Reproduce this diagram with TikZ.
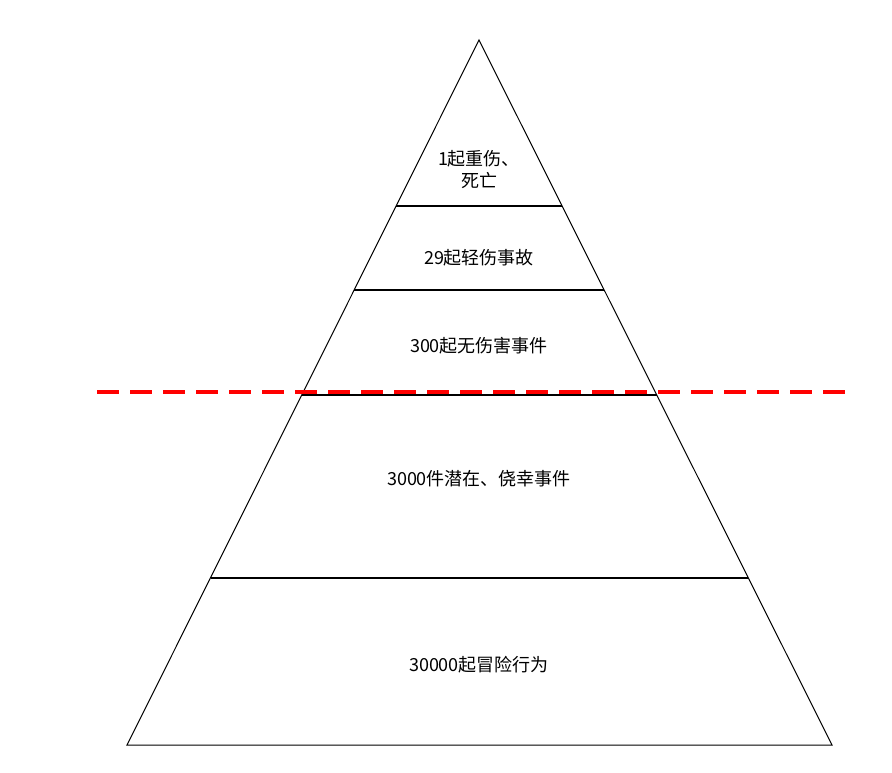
\documentclass[tikz,border=0pt]{standalone}
\usepackage{fontspec}
\newfontfamily\cjk{Noto Sans CJK SC}
\begin{document}
\begin{tikzpicture}[x=1pt,y=-1pt,
  lvl/.style={font=\cjk\fontsize{18}{22}\selectfont,align=center,inner sep=0pt},
  band/.style={draw=black,line width=1.8pt}]
\useasboundingbox (0,0) rectangle (892,773);
\coordinate (A) at (479,40);
\coordinate (L) at (127,745);
\coordinate (R) at (832,745);
\draw[black,line width=1pt] (A) -- (L) -- (R) -- cycle;
\foreach \y/\dx/\n in {206/83/a,290/125/b,395/177.5/c,578/268.5/d}{
  \coordinate (l\n) at (479-\dx,\y);
  \coordinate (r\n) at (479+\dx,\y);
  \draw[band] (l\n) -- (r\n);
}
\coordinate (dl) at (97,392);
\coordinate (dr) at (852,392);
\draw[red,line width=3.5pt,dash pattern=on 22pt off 11pt] (dl) -- (dr);
\node[lvl] (t1) at (479,170) {1起重伤、\\死亡};
\node[lvl] (t2) at (479,258) {29起轻伤事故};
\node[lvl] (t3) at (479,346) {300起无伤害事件};
\node[lvl] (t4) at (479,479) {3000件潜在、侥幸事件};
\node[lvl] (t5) at (479,665) {30000起冒险行为};
\end{tikzpicture}
\end{document}
